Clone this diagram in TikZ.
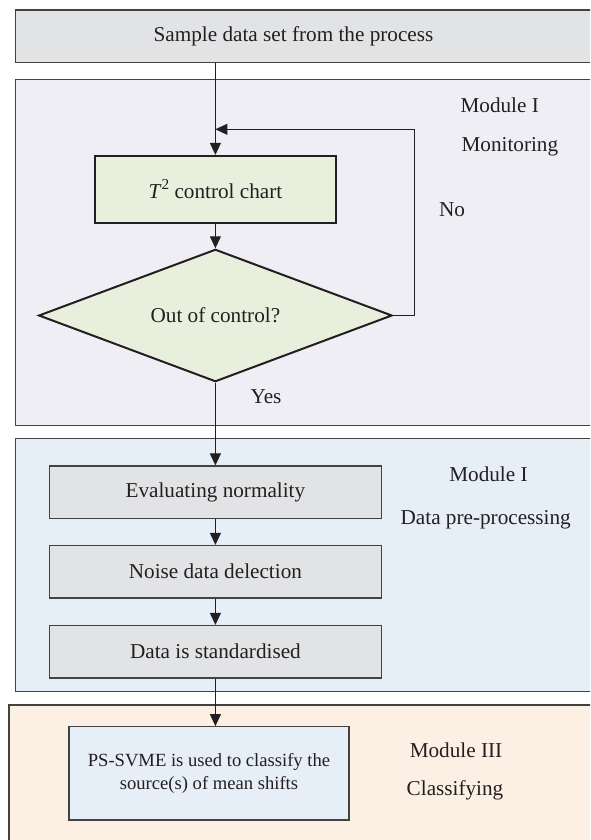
\documentclass[tikz,border=0pt]{standalone}
\usepackage{fontspec}
\setmainfont{Liberation Serif}
\usetikzlibrary{shapes.geometric,arrows.meta}

\definecolor{boxgray}{HTML}{E2E3E5}
\definecolor{lavender}{HTML}{F0EEF5}
\definecolor{palegreen}{HTML}{E8F0DD}
\definecolor{paleblue}{HTML}{E6EEF7}
\definecolor{palepeach}{HTML}{FCEFE3}
\definecolor{ink}{HTML}{231F20}

\begin{document}
\begin{tikzpicture}[x=0.5pt,y=-0.5pt,font=\fontsize{10.6}{12.7}\selectfont,text=ink,
  panel/.style={draw=ink!85,line width=0.6pt},
  proc/.style={draw=ink!85,line width=0.6pt,fill=boxgray,inner sep=0pt,
    minimum width=166.3pt,minimum height=26.2pt},
  check/.style={draw=ink,line width=1pt,fill=palegreen,inner sep=0pt},
  flow/.style={draw=ink,line width=0.55pt,-{Triangle[length=6pt,width=5.5pt]}}]
  \clip (0,0) rectangle (590,840);
  \fill[white] (0,0) rectangle (590,840);
  \draw[panel,fill=boxgray] (15.7,10) rectangle (620,62.7);
  \draw[panel,fill=lavender] (15.7,79.3) rectangle (620,425.5);
  \draw[panel,fill=paleblue] (15.7,438.5) rectangle (620,691.7);
  \draw[panel,fill=palepeach] (9,705) rectangle (620,860);
  \node (src) at (293.5,36.5) {Sample data set from the process};
  \coordinate (srcb) at (215.4,62.7);
  \node[check,minimum width=120.3pt,minimum height=33.3pt] (chart) at (215.4,189.2)
    {\textit{T\/}\raisebox{0.95ex}{\fontsize{7.6}{8}\selectfont 2}\ control chart};
  \node[check,diamond,shape aspect=2.66,minimum width=176.7pt,minimum height=66.2pt]
    (dec) at (215.4,315.5) {Out of control?};
  \node[proc] (norm) at (215.4,492.2) {Evaluating normality};
  \node[proc] (noise) at (215.4,571.7) {Noise data delection};
  \node[proc] (std) at (215.4,651.7) {Data is standardised};
  \node[panel,fill=paleblue,inner sep=0pt,minimum width=140pt,minimum height=46.6pt,
    align=center,font=\fontsize{9.3}{11.85}\selectfont] (svm) at (209,773.3)
    {PS-SVME is used to classify the\\source(s) of mean shifts};
  \node[anchor=west] (mod1) at (453.5,105) {Module I};
  \node[anchor=west] (mon) at (454.5,147) {Monitoring};
  \node (mod2) at (488.5,474) {Module I};
  \node (prep) at (485.7,520) {Data pre-processing};
  \node (mod3) at (456,750) {Module III};
  \node (cls) at (455,790) {Classifying};
  \node (no) at (452,210) {No};
  \node (yes) at (266,397) {Yes};
  \coordinate (loopr) at (414.7,129.3);
  \draw[flow] (srcb) -- (chart.north);
  \draw[flow] (chart) -- (dec);
  \draw[flow] (dec.east) -| (loopr) -- (loopr -| chart.north);
  \draw[flow] (dec) -- (norm);
  \draw[flow] (norm) -- (noise);
  \draw[flow] (noise) -- (std);
  \draw[flow] (std.south) -- (std.south |- svm.north);
\end{tikzpicture}
\end{document}
